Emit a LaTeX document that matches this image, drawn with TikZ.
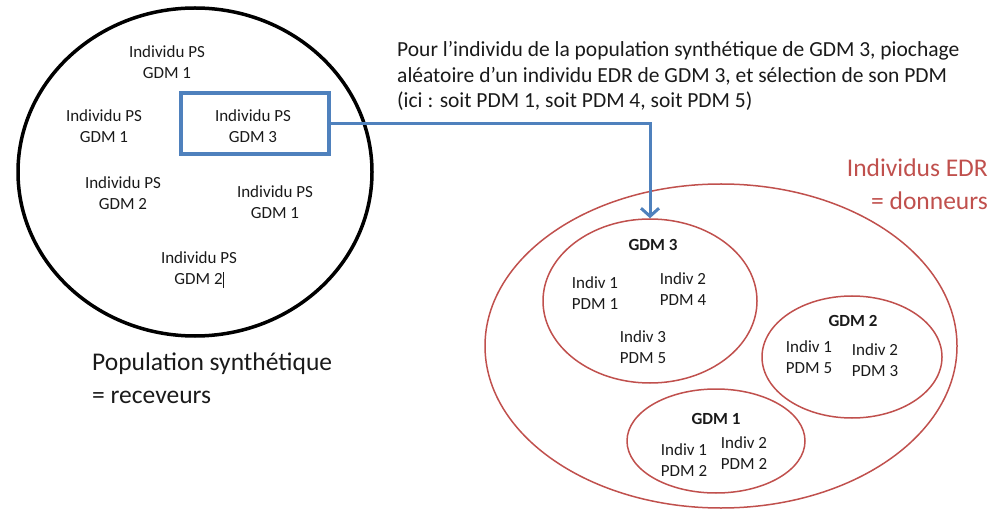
\documentclass[tikz,border=0pt]{standalone}
\usepackage{fontspec}
\setmainfont{Carlito}
\usetikzlibrary{shapes.geometric,arrows.meta}
\definecolor{offblue}{HTML}{4F81BD}
\definecolor{offred}{HTML}{C0504D}
\definecolor{txt}{HTML}{1A1A1A}
\begin{document}
\begin{tikzpicture}[x=1pt,y=-1pt,
  small/.style={font=\fontsize{17}{21}\selectfont, align=center, inner sep=0pt, text=txt},
  smallb/.style={font=\fontsize{17}{21}\selectfont\bfseries, inner sep=0pt, text=txt},
  mid/.style={font=\fontsize{21.5}{25.5}\selectfont, align=left, inner sep=0pt, text=txt},
  big/.style={font=\fontsize{25.5}{33}\selectfont, inner sep=0pt},
  redell/.style={ellipse, draw=offred, line width=1.5pt, inner sep=0pt}]
\useasboundingbox (0,0) rectangle (1003,510);
% left population circle
\node[ellipse, draw=black, line width=3.5pt, minimum width=354pt, minimum height=328pt, inner sep=0pt] (pop) at (195,172) {};
\node[small] (p1) at (167,62) {Individu PS\\GDM 1};
\node[small] (p2) at (104,126) {Individu PS\\GDM 1};
\node[small] (p3) at (253,126) {Individu PS\\GDM 3};
\node[small] (p4) at (123,193) {Individu PS\\GDM 2};
\node[small] (p5) at (275,202) {Individu PS\\GDM 1};
\node[small] (p6) at (199,270) {Individu PS\\GDM 2\rule[-3pt]{0.9pt}{16pt}};
\node[draw=offblue, line width=4pt, minimum width=148pt, minimum height=61pt, inner sep=0pt] (sel) at (255,124) {};
% explanatory text
\node[mid, anchor=west] (expl) at (397,76) {Pour l’individu de la population synthétique de GDM 3, piochage\\aléatoire d’un individu EDR de GDM 3, et sélection de son PDM\\(ici : soit PDM 1, soit PDM 4, soit PDM 5)};
% donors
\node[redell, minimum width=472pt, minimum height=324pt] (edr) at (721,346) {};
\node[redell, minimum width=214pt, minimum height=164pt] (g3) at (650,301) {};
\node[redell, minimum width=180pt, minimum height=122pt] (g2) at (852,357) {};
\node[redell, minimum width=178pt, minimum height=104pt] (g1) at (716,441) {};
\node[smallb] (g3t) at (653,245) {GDM 3};
\node[small] (a1) at (595,293) {Indiv 1\\PDM 1};
\node[small] (a2) at (683,289) {Indiv 2\\PDM 4};
\node[small] (a3) at (643,347) {Indiv 3\\PDM 5};
\node[smallb] (g2t) at (853,321) {GDM 2};
\node[small] (b1) at (809,357) {Indiv 1\\PDM 5};
\node[small] (b2) at (875,360) {Indiv 2\\PDM 3};
\node[smallb] (g1t) at (716,419) {GDM 1};
\node[small] (c1) at (684,460) {Indiv 1\\PDM 2};
\node[small] (c2) at (744,453) {Indiv 2\\PDM 2};
% big labels
\node[big, text=txt, align=left, anchor=west] (popl) at (92,378) {Population synthétique\\= receveurs};
\node[big, text=offred, align=right, anchor=east] (edrl) at (988,184) {Individus EDR\\= donneurs};
% arrow
\draw[offblue, line width=3pt, -{Straight Barb[length=8pt,width=18pt]}] (sel.east) -| (g3.north);
\end{tikzpicture}
\end{document}
